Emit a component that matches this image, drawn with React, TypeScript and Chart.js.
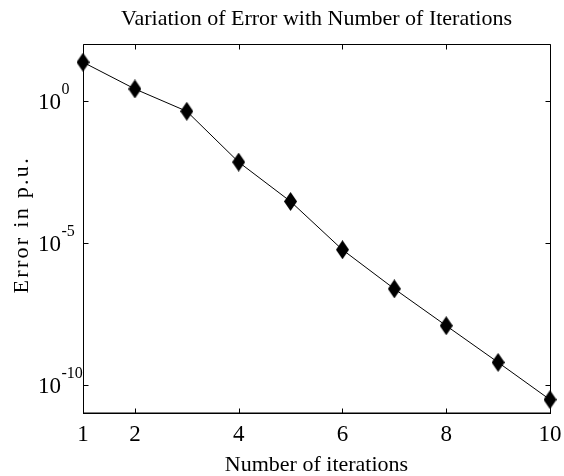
import React, { useEffect, useRef } from 'react';
import { Chart, registerables } from 'chart.js';

Chart.register(...registerables);

const iterations = [1, 2, 3, 4, 5, 6, 7, 8, 9, 10];
const errors = [23.7, 2.7, 0.44, 7.1e-3, 2.9e-4, 5.75e-6, 2.4e-7, 1.2e-8, 6.1e-10, 2.95e-11];
const xTickValues = [1, 2, 4, 6, 8, 10];
const yTickExponents = [0, -5, -10];
const titleText = 'Variation of Error with Number of Iterations';
const xLabel = 'Number of iterations';
const yLabel = 'Error in p.u.';

const FONT = '"Liberation Serif", "Times New Roman", serif';

function makeDiamond(w: number, h: number): HTMLCanvasElement {
  const c = document.createElement('canvas');
  c.width = w;
  c.height = h;
  const ctx = c.getContext('2d')!;
  ctx.fillStyle = '#000';
  ctx.beginPath();
  ctx.moveTo(w / 2, 0);
  ctx.lineTo(w, h / 2);
  ctx.lineTo(w / 2, h);
  ctx.lineTo(0, h / 2);
  ctx.closePath();
  ctx.fill();
  return c;
}

const matlabAxes = {
  id: 'matlabAxes',
  beforeDatasetsDraw(chart: any) {
    const { ctx, chartArea, scales } = chart;
    const { left, right, top, bottom } = chartArea;
    const L = Math.floor(left) + 0.5;
    const R = Math.floor(right) + 0.5;
    const T = Math.floor(top) + 0.5;
    const B = Math.floor(bottom) + 0.5;
    ctx.save();
    ctx.strokeStyle = '#000';
    ctx.lineWidth = 1;
    ctx.beginPath();
    ctx.moveTo(L, T);
    ctx.lineTo(R, T);
    ctx.lineTo(R, B);
    ctx.moveTo(L, T);
    ctx.lineTo(L, B);
    ctx.stroke();
    ctx.lineWidth = 1.6;
    ctx.beginPath();
    ctx.moveTo(L - 0.5, B - 0.3);
    ctx.lineTo(R + 0.5, B - 0.3);
    ctx.stroke();
    ctx.lineWidth = 1;
    ctx.beginPath();
    xTickValues.forEach((v) => {
      const px = Math.round(scales.x.getPixelForValue(v)) + 0.5;
      ctx.moveTo(px, B);
      ctx.lineTo(px, B - 5);
      ctx.moveTo(px, T);
      ctx.lineTo(px, T + 5);
    });
    yTickExponents.forEach((e) => {
      const py = Math.round(scales.y.getPixelForValue(Math.pow(10, e))) + 0.5;
      ctx.moveTo(L, py);
      ctx.lineTo(L + 5, py);
      ctx.moveTo(R, py);
      ctx.lineTo(R - 5, py);
    });
    ctx.stroke();
    ctx.restore();
  },
  afterDraw(chart: any) {
    const { ctx, chartArea, scales } = chart;
    ctx.save();
    ctx.fillStyle = '#000';
    ctx.textBaseline = 'alphabetic';
    ctx.font = `23px ${FONT}`;
    ctx.textAlign = 'center';
    xTickValues.forEach((v) => {
      const px = scales.x.getPixelForValue(v);
      ctx.fillText(String(v), px, chartArea.bottom + 28);
    });
    ctx.textAlign = 'left';
    yTickExponents.forEach((e) => {
      const py = scales.y.getPixelForValue(Math.pow(10, e));
      const baseX = chartArea.left - 45;
      ctx.font = `23px ${FONT}`;
      ctx.fillText('10', baseX, py + 8);
      const w = ctx.measureText('10').width;
      ctx.font = `16px ${FONT}`;
      ctx.fillText(String(e), baseX + w + 0.5, py - 7);
    });
    // y axis label (rotated, spaced like the reference)
    const cy = (chartArea.top + chartArea.bottom) / 2 - 3;
    ctx.translate(22.5, cy);
    ctx.rotate(-Math.PI / 2);
    ctx.font = `22px ${FONT}`;
    (ctx as any).letterSpacing = '2.3px';
    ctx.textAlign = 'center';
    ctx.textBaseline = 'middle';
    ctx.fillText(yLabel, 1, 0);
    ctx.restore();
  },
};

export default function App() {
  const canvasRef = useRef<HTMLCanvasElement | null>(null);

  useEffect(() => {
    if (!canvasRef.current) return;
    const diamond = makeDiamond(13, 19);
    const chart = new Chart(canvasRef.current, {
      type: 'line',
      data: {
        labels: iterations,
        datasets: [
          {
            data: iterations.map((x, i) => ({ x, y: errors[i] })),
            borderColor: '#000',
            borderWidth: 1,
            backgroundColor: '#000',
            pointStyle: diamond as any,
            pointRadius: 8,
            pointHoverRadius: 8,
            tension: 0,
            clip: false as any,
            xAxisID: 'x',
            yAxisID: 'y',
          },
        ],
      },
      options: {
        responsive: false,
        animation: false,
        layout: { padding: { left: 0, right: 14, top: 0, bottom: 0 } },
        plugins: {
          legend: { display: false },
          tooltip: { enabled: false },
          title: { display: false },
        },
        scales: {
          xTop: {
            type: 'linear',
            position: 'top',
            min: 1,
            max: 10,
            grid: { display: false },
            border: { display: false },
            ticks: { display: false },
            afterFit: (s: any) => {
              s.height = 44.5;
            },
            title: {
              display: true,
              text: titleText,
              color: '#000',
              font: { family: FONT, size: 22, weight: 'normal', lineHeight: 1.2 },
              padding: { top: 5.8, bottom: 0 },
            },
          },
          x: {
            type: 'linear',
            position: 'bottom',
            min: 1,
            max: 10,
            grid: { display: false },
            border: { display: false },
            ticks: { display: false },
            afterBuildTicks: (s: any) => {
              s.ticks = xTickValues.map((v) => ({ value: v }));
            },
            afterFit: (s: any) => {
              s.height = 63;
            },
            title: {
              display: true,
              text: xLabel,
              color: '#000',
              font: { family: FONT, size: 22, weight: 'normal', lineHeight: 1 },
              padding: { top: 0, bottom: 0 },
            },
          },
          y: {
            type: 'logarithmic',
            position: 'left',
            min: 1e-11,
            max: 1e2,
            grid: { display: false },
            border: { display: false },
            ticks: { display: false },
            afterBuildTicks: (s: any) => {
              s.ticks = yTickExponents.map((e) => ({ value: Math.pow(10, e) }));
            },
            afterFit: (s: any) => {
              s.width = 83;
            },
            title: { display: false },
          },
        },
      },
      plugins: [matlabAxes],
    });
    return () => chart.destroy();
  }, []);

  return (
    <div style={{ position: 'absolute', left: 0, top: 0, width: 564, height: 476, background: '#fff' }}>
      <canvas ref={canvasRef} width={564} height={476} style={{ display: 'block' }} />
    </div>
  );
}
